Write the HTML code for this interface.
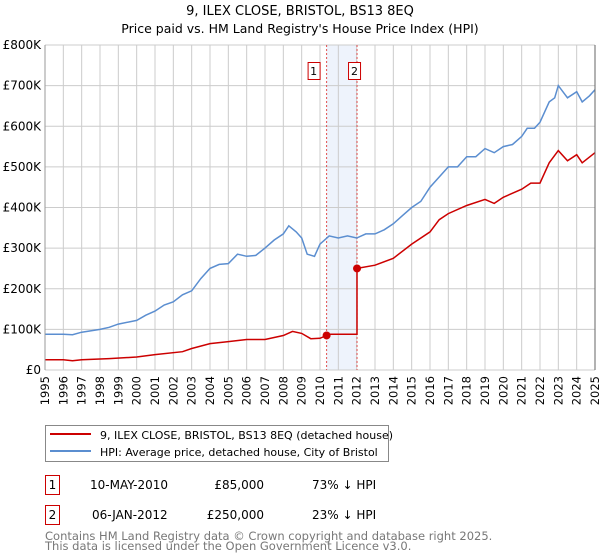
<!DOCTYPE html>
<html><head><meta charset="utf-8"><style>
body{margin:0;background:#fff;font-family:"DejaVu Sans","Liberation Sans",sans-serif;}
svg{display:block}
</style></head><body>
<svg id="c" width="600" height="560" xmlns="http://www.w3.org/2000/svg" font-family="DejaVu Sans, Liberation Sans, sans-serif">
<text x="300" y="15" text-anchor="middle" font-size="13" fill="#000">9, ILEX CLOSE, BRISTOL, BS13 8EQ</text>
<text x="300" y="33" text-anchor="middle" font-size="12.5" fill="#000">Price paid vs. HM Land Registry's House Price Index (HPI)</text>
<g id="grid"></g><g id="marks"></g><g id="axes"></g>
<g>
<rect x="45.5" y="425.5" width="343" height="36" fill="#fff" stroke="#888"/>
<line x1="50" y1="434" x2="91" y2="434" stroke="#cc0000" stroke-width="2"/>
<text x="100" y="439" font-size="11">9, ILEX CLOSE, BRISTOL, BS13 8EQ (detached house)</text>
<line x1="50" y1="451" x2="91" y2="451" stroke="#5b8ed0" stroke-width="2"/>
<text x="100" y="456" font-size="11">HPI: Average price, detached house, City of Bristol</text>
</g>
<g font-size="12">
<rect x="45.5" y="475.5" width="14" height="19" fill="#fff" stroke="#cc0000"/>
<text x="52.5" y="489" text-anchor="middle">1</text>
<text x="90" y="489">10-MAY-2010</text>
<text x="264" y="489" text-anchor="end">£85,000</text>
<text x="312" y="489">73% ↓ HPI</text>
<rect x="45.5" y="505.5" width="14" height="19" fill="#fff" stroke="#cc0000"/>
<text x="52.5" y="519" text-anchor="middle">2</text>
<text x="92" y="519">06-JAN-2012</text>
<text x="264" y="519" text-anchor="end">£250,000</text>
<text x="312" y="519">23% ↓ HPI</text>
</g>
<text x="45" y="540" font-size="11.5" fill="#777">Contains HM Land Registry data © Crown copyright and database right 2025.</text>
<text x="45" y="550" font-size="11.5" fill="#777">This data is licensed under the Open Government Licence v3.0.</text>
</svg>
<script>
const years=[1995,1996,1997,1998,1999,2000,2001,2002,2003,2004,2005,2006,2007,2008,2009,2010,2011,2012,2013,2014,2015,2016,2017,2018,2019,2020,2021,2022,2023,2024,2025];
const yTicks=[0,100000,200000,300000,400000,500000,600000,700000,800000];
const yTickLabels=["£0","£100K","£200K","£300K","£400K","£500K","£600K","£700K","£800K"];
const hpiT=[1995,1996,1996.5,1997,1998,1998.5,1999,2000,2000.5,2001,2001.5,2002,2002.5,2003,2003.5,2004,2004.5,2005,2005.5,2006,2006.5,2007,2007.5,2008,2008.3,2008.7,2009,2009.3,2009.7,2010,2010.5,2011,2011.5,2012,2012.5,2013,2013.5,2014,2014.5,2015,2015.5,2016,2016.5,2017,2017.5,2018,2018.5,2019,2019.5,2020,2020.5,2021,2021.3,2021.7,2022,2022.5,2022.8,2023,2023.5,2024,2024.3,2024.7,2025];
const hpiV=[88,88,87,93,100,105,113,122,135,145,160,168,185,195,225,250,260,262,285,280,282,300,320,335,355,340,325,285,280,310,330,325,330,325,335,335,345,360,380,400,415,450,475,500,500,525,525,545,535,550,555,575,595,595,610,660,670,700,670,685,660,675,690];
const propT=[1995,1996,1996.5,1997,1998.5,2000,2001,2002.5,2003,2004,2005,2006,2007,2008,2008.5,2009,2009.5,2010,2010.36,2010.5,2012.02,2012.02,2013,2014,2015,2016,2016.5,2017,2018,2019,2019.5,2020,2021,2021.5,2022,2022.5,2023,2023.5,2024,2024.3,2025];
const propV=[25,25,23,25,28,32,38,45,53,65,70,75,75,85,95,90,77,78,85,88,88,250,258,275,310,340,370,385,405,420,410,425,445,460,460,510,540,515,530,510,535];
const saleT=[2010.36,2012.02];
const saleV=[85,250];
const saleLabels=["1","2"];
const x0=45,x1=595,yb=370,yt=45;
const X=t=>x0+(t-1995)/(2025-1995)*(x1-x0);
const Y=v=>yb-(v/800000)*(yb-yt);
const NS="http://www.w3.org/2000/svg";
function mk(tag,attrs,parent){const e=document.createElementNS(NS,tag);for(const k in attrs)e.setAttribute(k,attrs[k]);parent.appendChild(e);return e;}
const grid=document.getElementById('grid'),marks=document.getElementById('marks'),axes=document.getElementById('axes');
let sh=mk('rect',{x:X(saleT[0]),y:yt,width:X(saleT[1])-X(saleT[0]),height:yb-yt,fill:'#eef3fc'},grid);


years.forEach(y=>{let l=mk('line',{x1:X(y),x2:X(y),y1:yt,y2:yb,stroke:'#ccc','stroke-width':1},grid);


let t=mk('text',{x:0,y:0,'font-size':11.5,'text-anchor':'end',transform:`translate(${X(y)+4},${yb+6}) rotate(-90)`},axes);t.textContent=y;

});
yTicks.forEach((v,i)=>{let l=mk('line',{x1:x0,x2:x1,y1:Y(v),y2:Y(v),stroke:'#ccc','stroke-width':1},grid);


let t=mk('text',{x:x0-4,y:Y(v)+4,'font-size':12,'text-anchor':'end'},axes);t.textContent=yTickLabels[i];

});
let ax=mk('line',{x1:x0,x2:x0,y1:yt,y2:yb,stroke:'#999'},axes);


let rx=mk('line',{x1:x1,x2:x1,y1:yt,y2:yb,stroke:'#666'},axes);


saleT.forEach((t,i)=>{let l=mk('line',{x1:X(t),x2:X(t),y1:yt,y2:yb,stroke:'#e05050','stroke-dasharray':'2,2'},marks);


let r=mk('rect',{x:X(t)-19+0.5,y:62.5,width:12,height:17,fill:'#fff',stroke:'#cc0000'},marks);
if(i==1)r.setAttribute('x',X(t)-8.5);


let tx=mk('text',{x:(i==1?X(t)-2.5:X(t)-13),y:75,'font-size':11,'text-anchor':'middle'},marks);tx.textContent=saleLabels[i];

});
const pts=(T,V)=>T.map((t,i)=>X(t).toFixed(1)+','+Y(V[i]*1000).toFixed(1)).join(' ');
let hp=mk('polyline',{points:pts(hpiT,hpiV),fill:'none',stroke:'#5b8ed0','stroke-width':1.5},marks);


let pp=mk('polyline',{points:pts(propT,propV),fill:'none',stroke:'#cc0000','stroke-width':1.5},marks);


saleT.forEach((t,i)=>{let c=mk('circle',{cx:X(t),cy:Y(saleV[i]*1000),r:4,fill:'#cc0000'},marks);

});
</script>
</body></html>
